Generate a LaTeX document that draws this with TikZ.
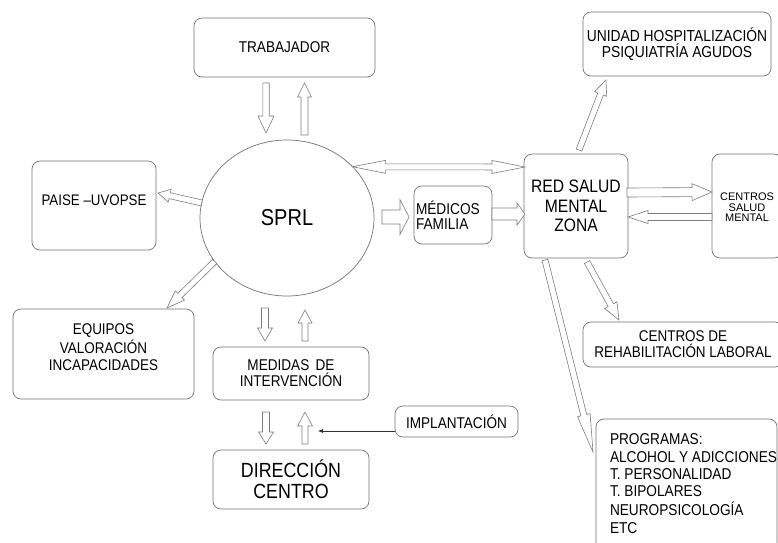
\documentclass[tikz,border=0pt]{standalone}
\usepackage{fontspec}
\setmainfont{Liberation Sans}[FakeStretch=0.87]
\newfontfamily\plainsans{Liberation Sans}
\usetikzlibrary{calc,arrows.meta,shapes.geometric}
\definecolor{bordercol}{RGB}{115,115,115}
\definecolor{arrcol}{RGB}{125,125,125}
\newcommand{\fsz}[2]{\fontsize{#1}{#2}\selectfont}
\tikzset{
  box/.style={draw=bordercol, line width=0.7pt, rounded corners=8pt, inner sep=0pt, outer sep=0pt, align=center},
  blockarr/.style={draw=arrcol, line width=0.6pt, fill=white, line join=miter},
  thinarr/.style={draw=black!80, line width=0.5pt, -{Latex[length=5pt,width=4pt]}},
}
% single block arrow: start, end, half shaft, half head, head length
\newcommand{\barrow}[5]{%
  \coordinate (ba-s) at #1; \coordinate (ba-e) at #2;
  \coordinate (ba-h) at ($(ba-e)!#5!(ba-s)$);
  \draw[blockarr] ($(ba-s)!#3!90:(ba-e)$) -- ($(ba-h)!#3!-90:(ba-s)$) -- ($(ba-h)!#4!-90:(ba-s)$) -- (ba-e) -- ($(ba-h)!#4!90:(ba-s)$) -- ($(ba-h)!#3!90:(ba-s)$) -- ($(ba-s)!#3!-90:(ba-e)$) -- cycle;}
% double-headed block arrow
\newcommand{\dbarrow}[5]{%
  \coordinate (ba-s) at #1; \coordinate (ba-e) at #2;
  \coordinate (ba-h) at ($(ba-e)!#5!(ba-s)$);
  \coordinate (ba-g) at ($(ba-s)!#5!(ba-e)$);
  \draw[blockarr] (ba-s) -- ($(ba-g)!#4!90:(ba-e)$) -- ($(ba-g)!#3!90:(ba-e)$) -- ($(ba-h)!#3!-90:(ba-s)$) -- ($(ba-h)!#4!-90:(ba-s)$) -- (ba-e) -- ($(ba-h)!#4!90:(ba-s)$) -- ($(ba-h)!#3!90:(ba-s)$) -- ($(ba-g)!#3!-90:(ba-e)$) -- ($(ba-g)!#4!-90:(ba-e)$) -- cycle;}
\begin{document}
\begin{tikzpicture}[x=1pt,y=-1pt]
\useasboundingbox (0,0) rectangle (778,542);
\fill[white] (0,0) rectangle (778,542);

% nodes
\node[box, minimum width=181pt, minimum height=59pt, font=\fsz{15.6}{16}] (trab) at (284.5,47.5) {TRABAJADOR};
\node[draw=bordercol, line width=0.7pt, ellipse, minimum width=174pt, minimum height=156pt, inner sep=0pt, outer sep=0pt, font=\fsz{23}{24}] (sprl) at (287,218) {SPRL};
\node[box, minimum width=124pt, minimum height=89pt, font=\fsz{15.3}{16}] (paise) at (94,205.5) {\raisebox{5pt}[\height][\depth]{PAISE –UVOPSE}};
\node[box, minimum width=181pt, minimum height=90pt, font=\fsz{15.5}{17}] (equipos) at (103.5,354) {\raisebox{5pt}[\height][\depth]{\begin{tabular}{@{}c@{}}EQUIPOS\\VALORACIÓN\\INCAPACIDADES\end{tabular}}};
\node[box, minimum width=156pt, minimum height=53pt, font=\fsz{15.6}{16}] (medidas) at (291,373.5) {MEDIDAS\, DE\\INTERVENCIÓN};
\node[box, minimum width=156pt, minimum height=59pt, font=\fsz{20.5}{21}] (direccion) at (291,479.5) {DIRECCIÓN\\CENTRO};
\node[box, minimum width=123pt, minimum height=31pt, font=\fsz{15.6}{16}] (implant) at (456.5,421.5) {IMPLANTACIÓN};
\node[box, minimum width=78pt, minimum height=58pt, font=\fsz{15.7}{15}] (medicos) at (453,215) {\makebox[78pt][l]{\hspace{2pt}\raisebox{-2.5pt}[\height][\depth]{\begin{tabular}{@{}l@{}}MÉDICOS\\FAMILIA\end{tabular}}}};
\node[box, minimum width=104pt, minimum height=104pt, font=\fsz{18}{19.5}] (red) at (576,206) {RED SALUD\\MENTAL\\ZONA};
\node[box, minimum width=70pt, minimum height=104pt, font=\plainsans\fsz{11}{9.5}] (csm) at (747,206) {\raisebox{-3pt}[\height][\depth]{\begin{tabular}{@{}c@{}}CENTROS\\SALUD\\MENTAL\end{tabular}}};
\node[box, minimum width=188pt, minimum height=64pt, font=\fsz{15.9}{16}] (unidad) at (677,44) {UNIDAD HOSPITALIZACIÓN\\PSIQUIATRÍA AGUDOS};
\node[box, minimum width=200pt, minimum height=45pt, font=\fsz{15.5}{16}] (rehab) at (683,344.5) {CENTROS DE\\REHABILITACIÓN LABORAL};
\node[box, minimum width=181pt, minimum height=133pt, font=\fsz{15.7}{17.4}] (prog) at (686.5,485.5) {\makebox[181pt][l]{\hspace{14pt}\begin{tabular}{@{}l@{}}PROGRAMAS:\\ALCOHOL Y ADICCIONES\\T. PERSONALIDAD\\T. BIPOLARES\\NEUROPSICOLOGÍA\\ETC\end{tabular}}};

% block arrows
\barrow{($(trab.south)+(-18.5,6)$)}{($(sprl.north)+(-21,-7)$)}{3.2pt}{8pt}{17pt}
\barrow{($(sprl.north)+(17.5,-5)$)}{($(trab.south)+(20,6)$)}{3.5pt}{7pt}{14pt}
\dbarrow{(sprl.38)}{($(red.north west)+(1,13)$)}{3pt}{6.5pt}{33pt}
\barrow{(sprl.170)}{($(paise.east)+(2,-12.5)$)}{3pt}{6.5pt}{12pt}
\barrow{(sprl.211)}{($(equipos.north)+(63.5,-1)$)}{3pt}{6.5pt}{18pt}
\barrow{($(sprl.east)+(8,-1)$)}{($(medicos.west)+(-5,2)$)}{7pt}{17.5pt}{9pt}
\barrow{($(medicos.east)+(0,-1)$)}{($(red.west)+(1,8)$)}{6pt}{11pt}{8pt}
\barrow{($(red.east)+(-1,-13.5)$)}{($(csm.west)+(0,-14)$)}{4.5pt}{8.5pt}{20pt}
\barrow{($(csm.west)+(0,11)$)}{($(red.east)+(0,11)$)}{3.5pt}{6.5pt}{20pt}
\barrow{($(red.north)+(3,-4)$)}{($(unidad.south)+(-71,4)$)}{3pt}{6.5pt}{15pt}
\barrow{($(red.south)+(11,4)$)}{($(rehab.north)+(-64,-2)$)}{3pt}{7pt}{17pt}
\barrow{($(red.south)+(-31,2)$)}{($(prog.west)+(-3,-33.5)$)}{3pt}{6.5pt}{38pt}
\barrow{($(sprl.south)+(-22,12)$)}{($(medidas.north)+(-26,-6)$)}{3.5pt}{7.5pt}{13pt}
\barrow{($(medidas.north)+(14,-6)$)}{($(sprl.south)+(18,14)$)}{3pt}{7pt}{13pt}
\barrow{($(medidas.south)+(-25,12)$)}{($(direccion.north)+(-25,-6)$)}{3.5pt}{7.5pt}{12pt}
\barrow{($(direccion.north)+(14,-6)$)}{($(medidas.south)+(14,12)$)}{3pt}{7.5pt}{14pt}

% thin arrow
\coordinate (implend) at ($(direccion.north)+(27,-19)$);
\draw[thinarr] ($(implant.west)+(0,9.5)$) -- (implend);
\end{tikzpicture}
\end{document}
